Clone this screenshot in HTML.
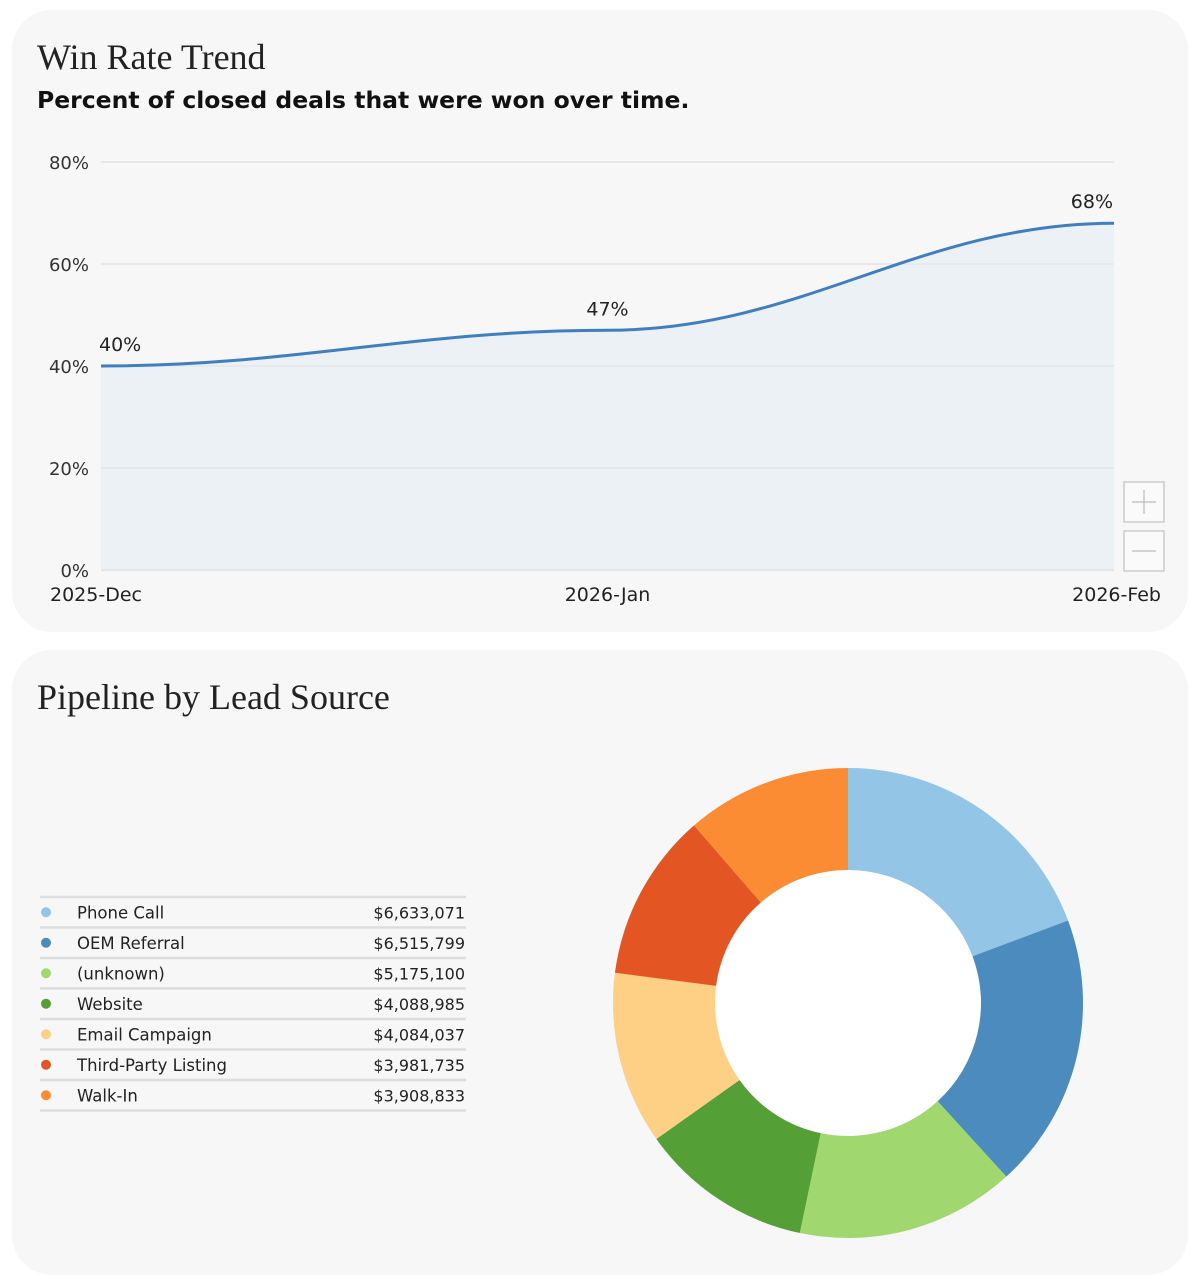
<!DOCTYPE html>
<html><head><meta charset="utf-8"><style>
html,body{margin:0;padding:0;background:#fff;width:1200px;height:1285px;overflow:hidden;font-family:"DejaVu Sans",sans-serif}
.card{position:absolute;left:12px;width:1176px;background:#f7f7f7;border-radius:40px}
.title{position:absolute;left:25px;font-family:"Liberation Serif",serif;font-size:36px;color:#222}
.sub{position:absolute;left:25px;font-size:23.5px;font-weight:bold;color:#111}
svg{position:absolute;left:0;top:0}
text{font-family:"DejaVu Sans",sans-serif}
</style></head><body>
<div class="card" style="top:10px;height:622px">
 <div class="title" style="top:26px">Win Rate Trend</div>
 <div class="sub" style="top:76px">Percent of closed deals that were won over time.</div>
</div>
<div class="card" style="top:650px;height:625px">
 <div class="title" style="top:26px">Pipeline by Lead Source</div>
</div>
<svg id="c" width="1200" height="1285"></svg>
<script>
const months=["2025-Dec","2026-Jan","2026-Feb"];
const winRates=[40,47,68];
const yTicks=[0,20,40,60,80];
const sources=["Phone Call","OEM Referral","(unknown)","Website","Email Campaign","Third-Party Listing","Walk-In"];
const pipeline=[6633071,6515799,5175100,4088985,4084037,3981735,3908833];
const colors=["#92c5e6","#4b8bbe","#a0d86f","#559f37","#fdd086","#e35624","#fb8c34"];
const NS="http://www.w3.org/2000/svg",svg=document.getElementById('c');
function mk(t,a,txt){const e=document.createElementNS(NS,t);for(const k in a)e.setAttribute(k,a[k]);if(txt!==undefined)e.textContent=txt;svg.appendChild(e);return e;}
const x0=101,x1=1114,yb=570,yt=162;
const xs=i=>x0+(x1-x0)*i/(months.length-1);
const ys=v=>yb-(yb-yt)*v/80;
yTicks.forEach(t=>{
 const l=mk('line',{x1:x0,x2:x1,y1:ys(t),y2:ys(t),stroke:t===0?'#ccc':'#d8d8d8','stroke-width':1});
 
 
 const tx=mk('text',{x:89,y:ys(t)+7,'text-anchor':'end','font-size':18,fill:'#333'},t+'%');
 
 
});
months.forEach((m,i)=>{
 const a=i===0?'start':i===months.length-1?'end':'middle';
 const tx=mk('text',{x:i===0?50:i===months.length-1?1161:xs(i),y:601,'text-anchor':a,'font-size':19,fill:'#222'},m);
 
 
});
const n=winRates.length,px=winRates.map((v,i)=>xs(i)),py=winRates.map(ys);
let p='M'+px[0]+','+py[0];
for(let i=0;i<n-1;i++){const h=(px[i+1]-px[i])/2.6;p+=` C${px[i]+h},${py[i]} ${px[i+1]-h},${py[i+1]} ${px[i+1]},${py[i+1]}`;}
const area=mk('path',{d:p+` L${x1},${yb} L${x0},${yb} Z`,fill:'#e4ecf4','fill-opacity':0.6});


const line=mk('path',{d:p,fill:'none',stroke:'#3f7fbf','stroke-width':3});


winRates.forEach((v,i)=>{
 const tx=mk('text',{x:i===0?99:i===n-1?1113:xs(i),y:py[i]-15,'text-anchor':i===0?'start':i===n-1?'end':'middle','font-size':19,fill:'#222'},v+'%');
 
 
});
[['+',482],['−',531]].forEach(([s,y],k)=>{
 const r=mk('rect',{x:1124,y:y,width:40,height:40,fill:'#fafafa',stroke:'#ccc','stroke-width':1.5});
 
 
 mk('line',{x1:1132,x2:1156,y1:y+20,y2:y+20,stroke:'#bbb','stroke-width':1.2});
 if(!k)mk('line',{x1:1144,x2:1144,y1:y+8,y2:y+32,stroke:'#bbb','stroke-width':1.2});
});
const ly0=897,lh=30.5;
mk('line',{x1:40,x2:466,y1:ly0,y2:ly0,stroke:'#ddd','stroke-width':2.5});
sources.forEach((s,i)=>{
 const yc=ly0+lh*i+lh/2;
 const dot=mk('circle',{cx:46,cy:yc,r:5,fill:colors[i]});
 
 
 const t=mk('text',{x:77,y:yc+6,'font-size':16.5,fill:'#222'},s);
 
 
 const v=mk('text',{x:465,y:yc+6,'text-anchor':'end','font-size':16,fill:'#222'},'$'+pipeline[i].toLocaleString('en-US'));
 
 
 mk('line',{x1:40,x2:466,y1:ly0+lh*(i+1),y2:ly0+lh*(i+1),stroke:'#ddd','stroke-width':2.5});
});
const cx=848,cy=1003,R=235,r0=133,tot=pipeline.reduce((a,b)=>a+b,0);
const hole=mk('circle',{cx:cx,cy:cy,r:r0,fill:'#fff'});


let ang=0;
pipeline.forEach((v,i)=>{
 const a1=ang,a2=ang+v/tot*2*Math.PI;ang=a2;
 const P=(rr,a)=>[cx+rr*Math.sin(a),cy-rr*Math.cos(a)];
 const lg=a2-a1>Math.PI?1:0;
 const [ax,ay]=P(R,a1),[bx,by]=P(R,a2),[cx2,cy2]=P(r0,a2),[dx,dy]=P(r0,a1);
 const s=mk('path',{d:`M${ax},${ay} A${R},${R} 0 ${lg} 1 ${bx},${by} L${cx2},${cy2} A${r0},${r0} 0 ${lg} 0 ${dx},${dy} Z`,fill:colors[i]});
 
 
});
</script>
</body></html>
